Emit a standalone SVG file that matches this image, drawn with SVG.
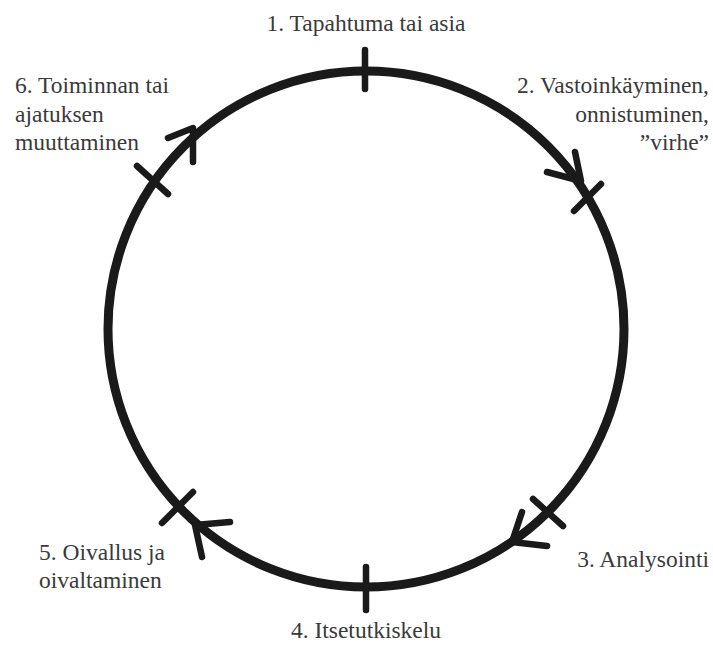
<svg xmlns="http://www.w3.org/2000/svg" width="713" height="646" viewBox="0 0 713 646">
<style>
.ring{fill:none;stroke:#1a1a1a;stroke-width:9}
.tick{stroke:#1a1a1a;stroke-width:6.5;stroke-linecap:round;fill:none}
.arr{stroke:#1a1a1a;stroke-width:6.5;stroke-linecap:round;stroke-linejoin:round;fill:none}
</style>
<rect width="713" height="646" fill="#ffffff"/>
<g id="connectors">
<circle class="ring" cx="366" cy="329" r="258"/>
<polyline class="arr" points="575,152 581,181 547,172"/>
<polyline class="arr" points="522,512 512,542 547,546"/>
<polyline class="arr" points="230,522 195,525 202,557"/>
<polyline class="arr" points="168,138 193,128 193,162"/>
</g>
<g font-family="Liberation Serif, DejaVu Serif, Times New Roman, serif" font-size="23.5" fill="#3a3a3a">
<g id="node1">
<line class="tick" x1="365" y1="50" x2="365" y2="89"/>
<text x="366" y="31" text-anchor="middle">1. Tapahtuma tai asia</text>
</g>
<g id="node2">
<line class="tick" x1="574" y1="211" x2="601" y2="184"/>
<text text-anchor="end"><tspan x="709" y="93">2. Vastoinkäyminen,</tspan><tspan x="709" y="122">onnistuminen,</tspan><tspan x="709" y="150">”virhe”</tspan></text>
</g>
<g id="node3">
<line class="tick" x1="533" y1="499" x2="563" y2="526"/>
<text x="709" y="567" text-anchor="end">3. Analysointi</text>
</g>
<g id="node4">
<line class="tick" x1="366" y1="567" x2="366" y2="610"/>
<text x="366" y="638" text-anchor="middle">4. Itsetutkiskelu</text>
</g>
<g id="node5">
<line class="tick" x1="193" y1="492" x2="162" y2="523"/>
<text><tspan x="39" y="560">5. Oivallus ja</tspan><tspan x="39" y="588">oivaltaminen</tspan></text>
</g>
<g id="node6">
<line class="tick" x1="137" y1="166" x2="168" y2="194"/>
<text><tspan x="15" y="93">6. Toiminnan tai</tspan><tspan x="15" y="122">ajatuksen</tspan><tspan x="15" y="150">muuttaminen</tspan></text>
</g>
</g>
</svg>
